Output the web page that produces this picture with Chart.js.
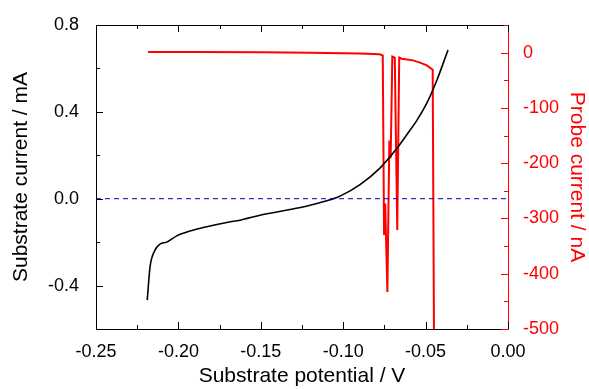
<!DOCTYPE html>
<html>
<head>
<meta charset="utf-8">
<script src="https://cdn.jsdelivr.net/npm/chart.js@4"></script>
<style>
  html, body { margin: 0; padding: 0; background: #fff; }
  #wrap { width: 589px; height: 389px; }
</style>
</head>
<body>
<div id="wrap"><canvas id="myChart" width="589" height="389"></canvas></div>
<script>
// Substrate current (black curve), left axis, mA
let substratePotential = [-0.2189, -0.2172, -0.2142, -0.2112, -0.2071, -0.2010, -0.1930, -0.1828,
    -0.1699, -0.1626, -0.1505, -0.1323, -0.1201, -0.1080, -0.1019, -0.0898, -0.0777, -0.0674,
    -0.0613, -0.0552, -0.0492, -0.0431, -0.0364];
let substrateCurrent = [-0.467, -0.314, -0.237, -0.209, -0.200, -0.171, -0.149, -0.129,
    -0.108, -0.099, -0.076, -0.050, -0.030, -0.005, 0.012, 0.065, 0.141, 0.232,
    0.296, 0.362, 0.441, 0.547, 0.685];

// Probe current (red curve), right axis, nA
let probePotential = [-0.2184, -0.1900, -0.1500, -0.1200, -0.1000, -0.0898, -0.0780, -0.0760,
    -0.0752, -0.0745, -0.0732, -0.0720, -0.0712, -0.0702, -0.0687, -0.0672, -0.0660, -0.0645,
    -0.0576, -0.0534, -0.0493, -0.0457, -0.0449];
let probeCurrent = [1, 1, 0.5, 0, -1, -1.5, -3, -5,
    -330, -273, -433, -159, -191, -7, -9, -321, -9, -11,
    -14, -18, -23, -31, -520];

// Axis ticks
let xTicks = { min: -0.25, max: 0.0, step: 0.025 };
let leftTicks = { min: -0.6, max: 0.8, step: 0.2 };
let rightTicks = { min: -500, max: 50, step: 50 };

function toPoints(xs, ys) {
    return xs.map((x, i) => ({ x: x, y: ys[i] }));
}

// Draw the little tick marks pointing into the plot, plus the top frame
const innerTicks = {
    id: 'innerTicks',
    afterDatasetsDraw(chart) {
        const { ctx, chartArea: a, scales } = chart;
        ctx.save();
        ctx.lineWidth = 1;

        ctx.strokeStyle = '#000';
        ctx.beginPath();
        ctx.moveTo(a.left, a.top + 0.5);
        ctx.lineTo(a.right, a.top + 0.5);
        ctx.stroke();

        scales.x.ticks.forEach(t => {
            const px = Math.round(scales.x.getPixelForValue(t.value)) + 0.5;
            const len = t.label ? 7 : 4;
            ctx.beginPath();
            ctx.moveTo(px, a.bottom); ctx.lineTo(px, a.bottom - len);
            ctx.moveTo(px, a.top); ctx.lineTo(px, a.top + len);
            ctx.stroke();
        });
        scales.y.ticks.forEach(t => {
            const py = Math.round(scales.y.getPixelForValue(t.value)) + 0.5;
            const len = t.label ? 7 : 4;
            ctx.beginPath();
            ctx.moveTo(a.left, py); ctx.lineTo(a.left + len, py);
            ctx.stroke();
        });
        ctx.strokeStyle = '#ff0000';
        scales.y2.ticks.forEach(t => {
            const py = Math.round(scales.y2.getPixelForValue(t.value)) + 0.5;
            const len = t.label ? 7 : 4;
            ctx.beginPath();
            ctx.moveTo(a.right, py); ctx.lineTo(a.right - len, py);
            ctx.stroke();
        });
        ctx.restore();
    }
};

let myChart = document.getElementById('myChart').getContext('2d');

let data = {
    datasets: [{
        label: 'zero',
        data: toPoints([xTicks.min, xTicks.max], [0, 0]),
        borderColor: '#0000cc',
        borderWidth: 1,
        borderDash: [5, 4],
        pointRadius: 0,
        yAxisID: 'y'
    },
    {
        label: 'Substrate current',
        data: toPoints(substratePotential, substrateCurrent),
        borderColor: '#000',
        borderWidth: 1.6,
        pointRadius: 0,
        cubicInterpolationMode: 'monotone',
        yAxisID: 'y'
    },
    {
        label: 'Probe current',
        data: toPoints(probePotential, probeCurrent),
        borderColor: '#ff0000',
        borderWidth: 2,
        pointRadius: 0,
        yAxisID: 'y2'
    }]
};

const tickFont = { family: 'Liberation Sans, Arial, sans-serif', size: 18 };
const titleFont = { family: 'Liberation Sans, Arial, sans-serif', size: 21 };

const config = {
    type: 'line',
    data: data,
    plugins: [innerTicks],
    options: {
        responsive: false,
        animation: false,
        layout: { padding: { top: 25, left: 0, right: 0, bottom: 0 } },
        plugins: { legend: { display: false }, tooltip: { enabled: false } },
        scales: {
            x: {
                type: 'linear',
                min: xTicks.min,
                max: xTicks.max,
                grid: { display: false },
                border: { display: true, color: '#000', width: 1 },
                ticks: {
                    stepSize: xTicks.step,
                    autoSkip: false,
                    maxRotation: 0,
                    color: '#000',
                    font: tickFont,
                    padding: 4,
                    callback: (v) => {
                        const k = Math.round(v / xTicks.step);
                        if (k % 2 !== 0) return '';
                        return (Math.abs(v) < 1e-9 ? 0 : v).toFixed(2);
                    }
                },
                title: { display: true, text: 'Substrate potential / V', color: '#000', font: titleFont, padding: { top: 0, bottom: 0 } },
                afterFit: (s) => { s.height = 60; }
            },
            y: {
                type: 'linear',
                position: 'left',
                min: leftTicks.min,
                max: leftTicks.max,
                grid: { display: false },
                border: { display: true, color: '#000', width: 1 },
                ticks: {
                    stepSize: leftTicks.step,
                    autoSkip: false,
                    color: '#000',
                    font: tickFont,
                    padding: 9,
                    callback: (v) => {
                        const k = Math.round(v * 10);
                        if (k % 4 !== 0) return '';
                        return (Math.abs(v) < 1e-9 ? 0 : v).toFixed(1);
                    }
                },
                title: { display: true, text: 'Substrate current / mA', color: '#000', font: titleFont, padding: { top: 9, bottom: 0 } },
                afterFit: (s) => { s.width = 96; }
            },
            y2: {
                type: 'linear',
                position: 'right',
                min: rightTicks.min,
                max: rightTicks.max,
                grid: { display: false },
                border: { display: true, color: '#ff0000', width: 1 },
                ticks: {
                    stepSize: rightTicks.step,
                    autoSkip: false,
                    color: '#ff0000',
                    font: tickFont,
                    padding: 7,
                    callback: (v) => (Math.round(v) % 100 === 0 ? String(Math.round(v)) : '')
                },
                title: { display: true, text: 'Probe current / nA', color: '#ff0000', font: titleFont, padding: { top: 0, bottom: 0 } },
                afterFit: (s) => { s.width = 81; }
            }
        }
    }
};

const theChart = new Chart(myChart, config);
</script>
</body>
</html>
